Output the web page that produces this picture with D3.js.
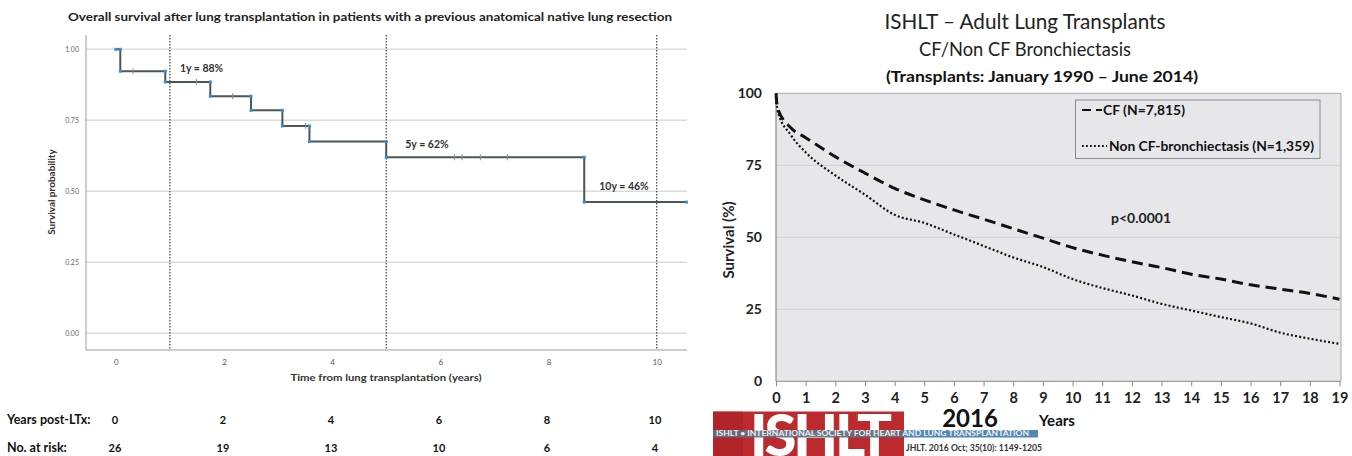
<!DOCTYPE html>
<html><head><meta charset="utf-8">
<script src="https://cdn.jsdelivr.net/npm/d3@7"></script>
<style>
body{margin:0;background:#fff;}
svg{display:block;}
text{font-family:Lato,'Open Sans','Liberation Sans',sans-serif;}
</style>
</head><body>
<svg id="c" width="1352" height="456"></svg>
<script>
// ---------------- Left chart data (Kaplan-Meier) ----------------
const kmTimes = [0, 0.083, 0.915, 1.747, 2.50, 3.08, 3.58, 5.0, 8.66, 10.55];
const kmSurv  = [1.00, 0.923, 0.885, 0.835, 0.785, 0.73, 0.675, 0.62, 0.462, 0.462];
const censorTimes = [0.32, 1.49, 2.16, 3.51, 6.26, 6.40, 6.74, 7.24];
const landmarkYears = [1, 5, 10];
const landmarkLabels = ["1y = 88%", "5y = 62%", "10y = 46%"];
const landmarkSurv = [0.885, 0.62, 0.462];
const leftXTicks = [0, 2, 4, 6, 8, 10];
const leftYTicks = [0, 0.25, 0.5, 0.75, 1.0];
const atRiskYears = [0, 2, 4, 6, 8, 10];
const atRiskN = [26, 19, 13, 10, 6, 4];

// ---------------- Right chart data (ISHLT) ----------------
const rightTimes = [0, 0.05, 0.5, 1, 2, 3, 4, 5, 6, 7, 8, 9, 10, 11, 12, 13, 14, 15, 16, 17, 18, 19];
const cfSurv    = [100, 95, 88, 84.6, 78, 72.3, 67, 63, 59.5, 56.3, 53, 49.7, 46.4, 43.8, 41.5, 39.5, 37.2, 35.5, 33.5, 32, 30.5, 28.5];
const nonCfSurv = [100, 94, 85.5, 79.5, 71.5, 64.8, 57.8, 55, 51, 47, 43, 39.7, 35.5, 32.4, 29.8, 26.9, 24.6, 22.3, 20.1, 16.9, 14.8, 13];
const rightXTicks = d3.range(0, 20);
const rightYTicks = [0, 25, 50, 75, 100];
const seriesNames = ["CF (N=7,815)", "Non CF-bronchiectasis (N=1,359)"];

const svg = d3.select("#c");

// ======================= LEFT CHART =======================
const L = {left: 86, right: 687, top: 35, bottom: 350};
const xL = d3.scaleLinear().domain([0, 10]).range([115.8, 656.7]);
const yL = d3.scaleLinear().domain([0, 1]).range([333.3, 49.3]);
const gL = svg.append("g");

gL.append("text").attr("x", 68).attr("y", 21)
  .attr("textLength", 604).attr("lengthAdjust", "spacingAndGlyphs")
  .attr("font-size", 11).attr("font-weight", "bold").attr("fill", "#222")
  .text("Overall survival after lung transplantation in patients with a previous anatomical native lung resection");

gL.selectAll("line.grid").data(leftYTicks).join("line")
  .attr("x1", L.left).attr("x2", L.right)
  .attr("y1", d => yL(d)).attr("y2", d => yL(d))
  .attr("stroke", "#dcdcdc").attr("stroke-width", 1.5);

gL.append("line").attr("x1", L.left).attr("x2", L.left).attr("y1", L.top).attr("y2", L.bottom)
  .attr("stroke", "#9a9a9a").attr("stroke-width", 1);
gL.append("line").attr("x1", L.left).attr("x2", L.right).attr("y1", L.bottom).attr("y2", L.bottom)
  .attr("stroke", "#9a9a9a").attr("stroke-width", 1);

const axL = gL.append("g").attr("transform", `translate(0,${L.bottom})`)
  .call(d3.axisBottom(xL).tickValues(leftXTicks).tickSize(0).tickPadding(9).tickFormat(d3.format("d")));
axL.select(".domain").remove();
axL.selectAll("text").attr("font-size", 8).attr("fill", "#555").attr("font-family", "Lato, sans-serif");

const ayL = gL.append("g").attr("transform", `translate(${L.left},0)`)
  .call(d3.axisLeft(yL).tickValues(leftYTicks).tickSize(0).tickPadding(7).tickFormat(d3.format(".2f")));
ayL.select(".domain").remove();
ayL.selectAll("text").attr("font-size", 7).attr("fill", "#666").attr("font-family", "Lato, sans-serif");

gL.append("text").attr("transform", `translate(55,192) rotate(-90)`)
  .attr("text-anchor", "middle").attr("font-size", 10).attr("font-weight", "bold").attr("fill", "#333")
  .text("Survival probability");
gL.append("text").attr("x", 386).attr("y", 381).attr("text-anchor", "middle")
  .attr("textLength", 191).attr("lengthAdjust", "spacingAndGlyphs")
  .attr("font-size", 10).attr("font-weight", "bold").attr("fill", "#333")
  .text("Time from lung transplantation (years)");

gL.selectAll("line.lm").data(landmarkYears).join("line")
  .attr("x1", d => xL(d)).attr("x2", d => xL(d)).attr("y1", L.top).attr("y2", L.bottom)
  .attr("stroke", "#333").attr("stroke-width", 1.1).attr("stroke-dasharray", "1.5,1.5");

const kmData = kmTimes.map((t, i) => ({t, s: kmSurv[i]}));
gL.append("path").datum(kmData)
  .attr("d", d3.line().x(d => xL(d.t)).y(d => yL(d.s)).curve(d3.curveStepAfter))
  .attr("fill", "none").attr("stroke", "#4d5757").attr("stroke-width", 2);

const corners = [];
kmData.forEach((d, i) => {
  if (i > 0) corners.push({t: d.t, s: kmData[i-1].s});
  if (i < kmData.length - 1) corners.push({t: d.t, s: d.s});
});
gL.selectAll("rect.cm").data(corners).join("rect")
  .attr("x", d => xL(d.t) - 1.5).attr("y", d => yL(d.s) - 1.5)
  .attr("width", 3).attr("height", 3).attr("fill", "#3c8fd6");

const survAt = t => { let s = kmSurv[0]; kmTimes.forEach((tt, i) => { if (tt <= t) s = kmSurv[i]; }); return s; };
gL.selectAll("line.cens").data(censorTimes).join("line")
  .attr("x1", d => xL(d)).attr("x2", d => xL(d))
  .attr("y1", d => yL(survAt(d)) - 3).attr("y2", d => yL(survAt(d)) + 3)
  .attr("stroke", "#8a9090").attr("stroke-width", 1);

const lmDx = [10, 19, -8];
const lmDy = [-10, -9.5, -12];
gL.selectAll("text.lm").data(landmarkLabels).join("text")
  .attr("x", (d, i) => xL(landmarkYears[i]) + lmDx[i])
  .attr("y", (d, i) => yL(landmarkSurv[i]) + lmDy[i])
  .attr("text-anchor", (d, i) => i === 2 ? "end" : "start")
  .attr("font-size", 10.5).attr("font-weight", "bold").attr("fill", "#333")
  .text(d => d);

const xT = d3.scaleLinear().domain([0, 10]).range([115, 655]);
gL.append("text").attr("x", 7).attr("y", 424).attr("font-size", 12.5).attr("font-weight", "bold").attr("fill", "#111")
  .text("Years post-LTx:");
gL.append("text").attr("x", 7).attr("y", 452).attr("font-size", 12.5).attr("font-weight", "bold").attr("fill", "#111")
  .text("No. at risk:");
gL.selectAll("text.ry").data(atRiskYears).join("text")
  .attr("x", d => xT(d)).attr("y", 424).attr("text-anchor", "middle")
  .attr("font-size", 11).attr("font-weight", "bold").attr("fill", "#111").text(d => d);
gL.selectAll("text.rn").data(atRiskN).join("text")
  .attr("x", (d, i) => xT(atRiskYears[i])).attr("y", 452).attr("text-anchor", "middle")
  .attr("font-size", 11).attr("font-weight", "bold").attr("fill", "#111").text(d => d);

// ======================= RIGHT CHART =======================
const R = {left: 776, right: 1341, top: 93.3, bottom: 381.3};
const xR = d3.scaleLinear().domain([0, 19]).range([776, 1339.5]);
const yR = d3.scaleLinear().domain([0, 100]).range([381.3, 93.3]);
const gR = svg.append("g");

gR.append("text").attr("x", 1025).attr("y", 29).attr("text-anchor", "middle")
  .attr("font-size", 22).attr("fill", "#222").attr("textLength", 281).attr("lengthAdjust", "spacingAndGlyphs")
  .text("ISHLT \u2013 Adult Lung Transplants");
gR.append("text").attr("x", 1025).attr("y", 56).attr("text-anchor", "middle")
  .attr("font-size", 19.5).attr("fill", "#222").attr("textLength", 212).attr("lengthAdjust", "spacingAndGlyphs")
  .text("CF/Non CF Bronchiectasis");
gR.append("text").attr("x", 1042).attr("y", 82).attr("text-anchor", "middle")
  .attr("font-size", 16).attr("font-weight", "bold").attr("fill", "#111").attr("textLength", 312).attr("lengthAdjust", "spacingAndGlyphs")
  .text("(Transplants: January 1990 \u2013 June 2014)");

gR.append("rect").attr("x", R.left).attr("y", R.top).attr("width", R.right - R.left).attr("height", R.bottom - R.top)
  .attr("fill", "#e7e7ea").attr("stroke", "none");
gR.selectAll("line.grid").data([25, 50, 75]).join("line")
  .attr("x1", R.left).attr("x2", R.right).attr("y1", d => yR(d)).attr("y2", d => yR(d))
  .attr("stroke", "#cfcfd3").attr("stroke-width", 1);
gR.append("path").attr("d", `M${R.left},${R.top}H${R.right}V${R.bottom}`)
  .attr("fill", "none").attr("stroke", "#a8a8ac").attr("stroke-width", 1);
gR.append("line").attr("x1", R.left).attr("x2", R.left).attr("y1", R.top).attr("y2", R.bottom)
  .attr("stroke", "#8a8a8e").attr("stroke-width", 1.2);

const axR = gR.append("g").attr("transform", `translate(0,${R.bottom})`)
  .call(d3.axisBottom(xR).tickValues(rightXTicks).tickSize(5).tickPadding(6).tickFormat(d3.format("d")));
axR.select(".domain").attr("stroke", "#8a8a8e").attr("d", `M${R.left},0H${R.right}`);
axR.selectAll(".tick line").attr("stroke", "#8a8a8e");
axR.selectAll("text").attr("font-size", 14.5).attr("font-weight", "bold").attr("fill", "#222").attr("font-family", "Lato, sans-serif");

const ayR = gR.append("g").attr("transform", `translate(${R.left},0)`)
  .call(d3.axisLeft(yR).tickValues(rightYTicks).tickSize(0).tickPadding(14).tickFormat(d3.format("d")));
ayR.select(".domain").remove();
ayR.selectAll("text").attr("font-size", 14).attr("font-weight", "bold").attr("fill", "#222").attr("font-family", "Lato, sans-serif");

gR.append("text").attr("transform", "translate(734,240) rotate(-90)").attr("text-anchor", "middle")
  .attr("font-size", 15).attr("font-weight", "bold").attr("fill", "#222").text("Survival (%)");

const lineR = d3.line().x(d => xR(d.t)).y(d => yR(d.v)).curve(d3.curveMonotoneX);
const cfData = rightTimes.map((t, i) => ({t, v: cfSurv[i]}));
const ncData = rightTimes.map((t, i) => ({t, v: nonCfSurv[i]}));
gR.append("path").datum(ncData).attr("d", lineR)
  .attr("fill", "none").attr("stroke", "#111").attr("stroke-width", 2.2).attr("stroke-dasharray", "2,2.2");
gR.append("path").datum(cfData).attr("d", lineR)
  .attr("fill", "none").attr("stroke", "#111").attr("stroke-width", 3).attr("stroke-dasharray", "11,6");

gR.append("text").attr("x", 1141).attr("y", 223).attr("text-anchor", "middle")
  .attr("font-size", 14).attr("font-weight", "bold").attr("fill", "#222").text("p<0.0001");

const lg = gR.append("g");
lg.append("rect").attr("x", 1075.5).attr("y", 100).attr("width", 244.5).attr("height", 58.5)
  .attr("fill", "#e7e7ea").attr("stroke", "#8a8a8e").attr("stroke-width", 1);
lg.append("line").attr("x1", 1082).attr("x2", 1102).attr("y1", 110).attr("y2", 110)
  .attr("stroke", "#111").attr("stroke-width", 2.2).attr("stroke-dasharray", "9,5");
lg.append("line").attr("x1", 1082).attr("x2", 1107).attr("y1", 146).attr("y2", 146)
  .attr("stroke", "#111").attr("stroke-width", 1.8).attr("stroke-dasharray", "1.8,2.2");
lg.selectAll("text").data(seriesNames).join("text")
  .attr("x", (d, i) => i === 0 ? 1103 : 1109).attr("y", (d, i) => i === 0 ? 115 : 150.5)
  .attr("textLength", (d, i) => i === 0 ? 82 : 205).attr("lengthAdjust", "spacingAndGlyphs")
  .attr("font-size", 13.5).attr("font-weight", "bold").attr("fill", "#111").text(d => d);

// ISHLT logo / footer
const lo = svg.append("g");
lo.append("rect").attr("x", 713).attr("y", 411.5).attr("width", 191).attr("height", 45).attr("fill", "#bd2a2e");
lo.append("rect").attr("x", 713).attr("y", 411.5).attr("width", 30).attr("height", 45).attr("fill", "#a82226").attr("opacity", 0.6);
lo.append("text").attr("x", 750).attr("y", 455.5).attr("textLength", 142).attr("lengthAdjust", "spacing")
  .attr("font-size", 58).attr("font-weight", "900").attr("fill", "#fff").text("ISHLT");
lo.append("rect").attr("x", 713).attr("y", 430).attr("width", 191).attr("height", 7.5).attr("fill", "#5f6e82").attr("opacity", 0.92);
lo.append("rect").attr("x", 904).attr("y", 430).attr("width", 134).attr("height", 7.5).attr("fill", "#4f88b5");
lo.append("text").attr("x", 716).attr("y", 436.3).attr("textLength", 313).attr("lengthAdjust", "spacingAndGlyphs")
  .attr("font-size", 7).attr("font-weight", "bold").attr("fill", "#f0f0f0")
  .text("ISHLT \u2022 INTERNATIONAL SOCIETY FOR HEART AND LUNG TRANSPLANTATION");
lo.append("text").attr("x", 970).attr("y", 427).attr("text-anchor", "middle")
  .attr("font-size", 24).attr("font-weight", "bold").attr("fill", "#111").text("2016");
lo.append("text").attr("x", 1057).attr("y", 426).attr("text-anchor", "middle")
  .attr("font-size", 15).attr("font-weight", "bold").attr("fill", "#111").text("Years");
lo.append("text").attr("x", 906).attr("y", 451).attr("textLength", 136).attr("lengthAdjust", "spacingAndGlyphs")
  .attr("font-size", 8.5).attr("font-weight", "bold").attr("fill", "#333").text("JHLT. 2016 Oct; 35(10): 1149-1205");
</script>
</body></html>
